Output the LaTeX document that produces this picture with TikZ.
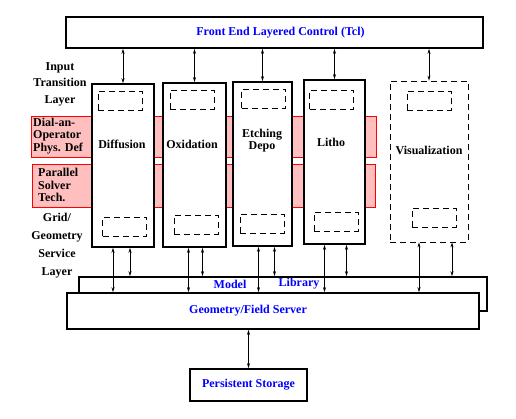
\documentclass[tikz,border=0pt]{standalone}
\usepackage{fontspec}
\setmainfont{Liberation Serif}
\usetikzlibrary{arrows.meta}

\begin{document}
\begin{tikzpicture}[x=1pt, y=-1pt, font=\fontsize{12}{12.5}\selectfont\bfseries]
\tikzset{
  box/.style={draw, line width=1.6pt, fill=white, inner sep=0pt},
  dbox/.style={draw, line width=0.8pt, dash pattern=on 6pt off 4pt, inner sep=0pt,
    minimum width=44, minimum height=19},
  band/.style={draw=red, line width=0.8pt, fill=red!25, inner sep=0pt},
  ttl/.style={text=blue, inner sep=0pt},
  lab/.style={align=center, inner sep=0pt},
  link/.style={{Stealth[length=5pt,width=3pt]}-{Stealth[length=5pt,width=3pt]}, line width=0.7pt}}

\useasboundingbox (0,0) rectangle (516,419);

% ---------------- front end ----------------
\node[box, minimum width=417, minimum height=31] (fe) at (274.5,32.5) {};
\node[ttl] (fet) at (280.5,33) {Front End Layered Control (Tcl)};

% ---------------- layer labels and bands ----------------
\node[lab, font=\fontsize{12}{16.5}\selectfont\bfseries] (inl) at (60,84) {Input\\Transition\\Layer};
\node[lab, font=\fontsize{12}{18}\selectfont\bfseries] (gsl) at (57,246) {Grid/\\Geometry\\Service\\Layer};

\node[band, minimum width=345, minimum height=41] (dial) at (203.5,136.5) {};
\node[lab, align=left, anchor=west] (dialt) at (33,136) {Dial-an-\\Operator\\Phys. Def};
\node[band, minimum width=343, minimum height=43] (par) at (203.5,185.5) {};
\node[lab, align=left, anchor=west] (part) at (38,185) {Parallel\\Solver\\Tech.};

% ---------------- process modules ----------------
\node[box, minimum width=62, minimum height=163] (diff) at (123,165.5) {};
\node[box, minimum width=63, minimum height=164] (oxi) at (194.5,165) {};
\node[box, minimum width=59, minimum height=164] (etch) at (262.5,164) {};
\node[box, minimum width=61, minimum height=164] (litho) at (334.5,162) {};
\node[draw, line width=0.8pt, dash pattern=on 6pt off 4pt, minimum width=78, minimum height=161] (vis) at (429,161.5) {};

\node[lab] (difft) at (122,144) {Diffusion};
\node[lab] (oxit) at (192,144) {Oxidation};
\node[lab, font=\fontsize{12}{12}\selectfont\bfseries] (etcht) at (262,141) {Etching\\Depo};
\node[lab] (lithot) at (331,142) {Litho};
\node[lab] (vist) at (429,150) {Visualization};

\node[dbox] (diffa) at (120,101) {};
\node[dbox] (diffb) at (124.5,226.5) {};
\node[dbox] (oxia) at (192,99.5) {};
\node[dbox] (oxib) at (196,224.5) {};
\node[dbox] (etcha) at (263.5,98.5) {};
\node[dbox] (etchb) at (262,223.5) {};
\node[dbox] (lithoa) at (331.5,99.5) {};
\node[dbox] (lithob) at (336,222) {};
\node[dbox] (visa) at (429,101) {};
\node[dbox] (visb) at (434,217.5) {};

% ---------------- model library and server ----------------
\node[box, minimum width=408, minimum height=34] (lib) at (283,294) {};
\node[ttl] (libm) at (230,284) {Model};
\node[ttl] (libl) at (299,284) {Library};
\node[box, minimum width=412, minimum height=36] (geo) at (273,311) {};
\node[ttl] (geot) at (248,311) {Geometry/Field Server};
\node[box, text=blue, minimum width=117, minimum height=32] (ps) at (248.5,385) {Persistent Storage};

% ---------------- connectors ----------------
\draw[link] (fe.south -| diff.north) -- (diff.north);
\draw[link] (fe.south -| oxi.north) -- (oxi.north);
\draw[link] (fe.south -| etch.north) -- (etch.north);
\draw[link] (fe.south -| litho.north) -- (litho.north);
\draw[link] (fe.south -| vis.north) -- (vis.north);

\draw[link] ([xshift=-10pt]diff.south) -- ([xshift=-10pt]diff.south |- geo.north);
\draw[link] ([xshift=7pt]diff.south) -- ([xshift=7pt]diff.south |- lib.north);
\draw[link] ([xshift=-6pt]oxi.south) -- ([xshift=-6pt]oxi.south |- geo.north);
\draw[link] ([xshift=8pt]oxi.south) -- ([xshift=8pt]oxi.south |- lib.north);
\draw[link] ([xshift=-4pt]etch.south) -- ([xshift=-4pt]etch.south |- geo.north);
\draw[link] ([xshift=12pt]etch.south) -- ([xshift=12pt]etch.south |- lib.north);
\draw[link] ([xshift=-10pt]litho.south) -- ([xshift=-10pt]litho.south |- geo.north);
\draw[link] ([xshift=12pt]litho.south) -- ([xshift=12pt]litho.south |- lib.north);
\draw[link] ([xshift=-10pt]vis.south) -- ([xshift=-10pt]vis.south |- geo.north);
\draw[link] ([xshift=23pt]vis.south) -- ([xshift=23pt]vis.south |- lib.north);

\draw[link] (geo.south -| ps.north) -- (ps.north);
\end{tikzpicture}
\end{document}
